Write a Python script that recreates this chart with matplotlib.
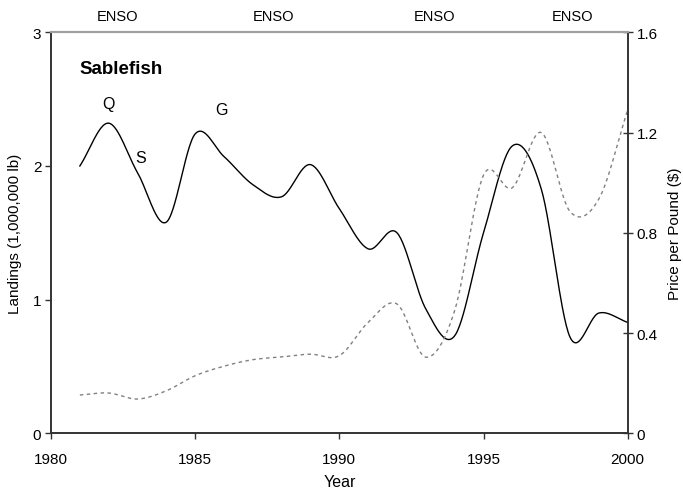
import numpy as np
import matplotlib
matplotlib.use('Agg')
import matplotlib.pyplot as plt

plt.rcParams['font.family'] = ['Liberation Sans', 'DejaVu Sans']

# annual values
years = np.arange(1981, 2001)
landings = [2.00, 2.32, 1.95, 1.58, 2.24, 2.07, 1.86, 1.77, 2.01, 1.68,
            1.38, 1.50, 0.93, 0.73, 1.50, 2.15, 1.83, 0.72, 0.90, 0.83]
price = [0.153, 0.161, 0.137, 0.17, 0.23, 0.268, 0.294, 0.305, 0.316, 0.31,
         0.443, 0.516, 0.304, 0.49, 1.03, 0.98, 1.20, 0.885, 0.935, 1.29]

enso_years = [1982.3, 1987.7, 1993.3, 1998.1]
labels = {'Q': (1982.0, 2.47), 'S': (1983.1, 2.06), 'G': (1985.9, 2.42)}


def smooth(x, y, n=30):
    """ Catmull-Rom spline through the points, like a spreadsheet's
        'smoothed line'. """
    x = np.asarray(x, float)
    y = np.asarray(y, float)
    px = np.concatenate([[2 * x[0] - x[1]], x, [2 * x[-1] - x[-2]]])
    py = np.concatenate([[2 * y[0] - y[1]], y, [2 * y[-1] - y[-2]]])
    xs, ys = [], []
    t = np.linspace(0, 1, n, endpoint=False)
    for i in range(1, len(px) - 2):
        for p, out in ((px, xs), (py, ys)):
            p0, p1, p2, p3 = p[i - 1], p[i], p[i + 1], p[i + 2]
            out.append(0.5 * (2 * p1 + (-p0 + p2) * t
                              + (2 * p0 - 5 * p1 + 4 * p2 - p3) * t**2
                              + (-p0 + 3 * p1 - 3 * p2 + p3) * t**3))
    xs.append([x[-1]])
    ys.append([y[-1]])
    return np.concatenate(xs), np.concatenate(ys)


fig = plt.figure(figsize=(6.83, 4.89), dpi=100)
ax = fig.add_axes([0.0747, 0.1117, 0.8443, 0.8203])
ax2 = ax.twinx()

sx, sy = smooth(years, landings)
ax.plot(sx, sy, color='black', lw=1.0, zorder=3)
px_, py_ = smooth(years, price)
ax2.plot(px_, py_, color='#808080', lw=1.0, dashes=(2.5, 2.5))

ax.set_xlim(1980, 2000)
ax.set_ylim(0, 3)
ax2.set_ylim(0, 1.6)
ax.set_xticks([1980, 1985, 1990, 1995, 2000])
ax.set_yticks([0, 1, 2, 3])
ax2.set_yticks([0, 0.4, 0.8, 1.2, 1.6])
ax2.set_yticklabels(['0', '0.4', '0.8', '1.2', '1.6'])

ax.tick_params(axis='both', direction='out', length=4, width=1,
               color='#333333', labelsize=11, pad=3)
ax.tick_params(axis='x', pad=9.5)
ax2.tick_params(axis='y', direction='inout', length=7, width=1,
                color='#333333', labelsize=11, pad=3)

for a in (ax, ax2):
    for side in ('left', 'bottom', 'right'):
        a.spines[side].set_color('#333333')
        a.spines[side].set_linewidth(1.2)
    a.spines['top'].set_color('#a0a0a0')
    a.spines['top'].set_linewidth(1.5)

ax.set_xlabel('Year', fontsize=11.5, labelpad=6)
ax.set_ylabel('Landings (1,000,000 lb)', fontsize=11, labelpad=8)
ax2.set_ylabel('Price per Pound ($)', fontsize=11, labelpad=7)

for yr in enso_years:
    ax.text(yr, 1.04, 'ENSO', transform=ax.get_xaxis_transform(),
            ha='center', va='center', fontsize=10.5)

ax.text(1981.0, 2.73, 'Sablefish', fontsize=13.5, fontweight='bold',
        ha='left', va='center')
for s, (xx, yy) in labels.items():
    ax.text(xx, yy, s, fontsize=11.5, ha='center', va='center')

fig.savefig('out.png', dpi=100)
